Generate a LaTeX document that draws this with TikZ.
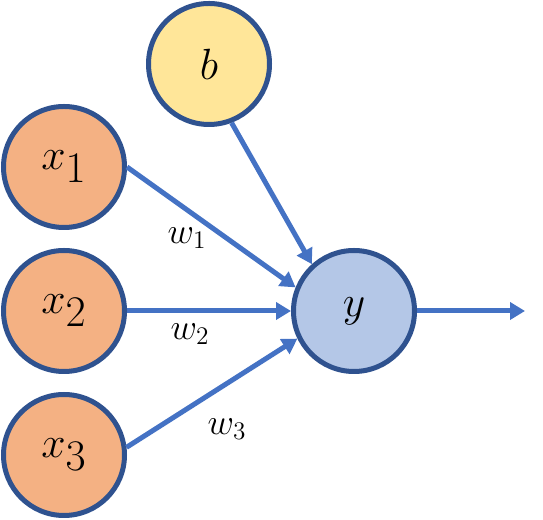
\documentclass[tikz,border=0pt]{standalone}
\usetikzlibrary{arrows.meta}
\definecolor{ringblue}{HTML}{2F528F}
\definecolor{linkblue}{HTML}{4472C4}
\definecolor{inorange}{HTML}{F4B183}
\definecolor{biasyellow}{HTML}{FFE699}
\definecolor{outblue}{HTML}{B4C7E7}
\tikzset{
  neuron/.style={circle, draw=ringblue, line width=0.1cm, minimum size=2.42cm, inner sep=0pt, font=\fontsize{34}{40}\selectfont},
  link/.style={draw=linkblue, line width=0.1cm, -{Triangle[length=0.3cm, width=0.34cm]}},
  weight/.style={font=\fontsize{21}{25}\selectfont}
}
\begin{document}
\begin{tikzpicture}
		\useasboundingbox (0,0) rectangle (10.86,10.4);
		\node [neuron, fill=inorange] (x1) at (1.28, 7.06) {$x_1$};
		\node [neuron, fill=inorange] (x2) at (1.28, 4.18) {$x_2$};
		\node [neuron, fill=inorange] (x3) at (1.28, 1.30) {$x_3$};
		\node [neuron, fill=biasyellow] (b) at (4.18, 9.12) {$b$};
		\node [neuron, fill=outblue] (y) at (7.08, 4.18) {$y$};
		\coordinate (out) at (10.5, 4.18);
		\draw [link] (x1.east) -- (y.158);
		\draw [link] (x2.east) -- (y.west);
		\draw [link] (x3.7) -- (y.206);
		\draw [link] (b.-69) -- (y.132);
		\draw [link] (y.east) -- (out);
		\node [weight] (w1) at (3.74, 5.64) {$w_1$};
		\node [weight] (w2) at (3.80, 3.72) {$w_2$};
		\node [weight] (w3) at (4.54, 1.82) {$w_3$};
\end{tikzpicture}
\end{document}
